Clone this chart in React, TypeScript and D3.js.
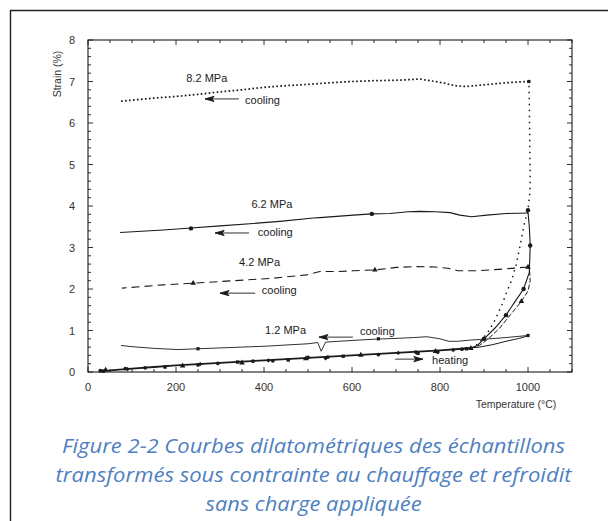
import React from 'react';
import * as d3 from 'd3';

// ---------- data (Temperature °C, Strain %) ----------
const xMajorTicks = [0, 200, 400, 600, 800, 1000];
const yMajorTicks = [0, 1, 2, 3, 4, 5, 6, 7, 8];

// common heating branch (all samples)
const heatT = [25, 50, 100, 150, 200, 250, 300, 350, 400, 450, 500, 550, 600, 650, 700, 750, 800, 850, 870];
const heatS = [0.03, 0.04, 0.08, 0.12, 0.16, 0.19, 0.22, 0.25, 0.28, 0.31, 0.34, 0.37, 0.40, 0.43, 0.46, 0.49, 0.52, 0.56, 0.58];

// heating end branches
const h12T = [870, 890, 920, 950, 980, 1000, 1003];
const h12S = [0.58, 0.6, 0.66, 0.74, 0.81, 0.87, 0.9];
const h42T = [870, 890, 910, 935, 960, 985, 1000, 1005, 1004, 1000];
const h42S = [0.58, 0.64, 0.8, 1.05, 1.38, 1.7, 1.95, 2.2, 2.4, 2.53];
const h62T = [870, 885, 900, 925, 950, 970, 990, 1003, 1005, 1003, 1000];
const h62S = [0.58, 0.64, 0.8, 1.06, 1.37, 1.69, 2.0, 2.4, 3.05, 3.5, 3.85];
const h82T = [870, 880, 895, 909, 925, 940, 952, 963, 973, 982, 991, 1000, 1004, 1005, 1004, 1003, 1002];
const h82S = [0.58, 0.62, 0.77, 0.96, 1.25, 1.6, 1.93, 2.22, 2.58, 3.04, 3.55, 3.9, 4.3, 4.63, 5.5, 6.5, 7.0];

// cooling branches
const c82T = [1002, 980, 950, 920, 890, 860, 840, 825, 810, 790, 770, 755, 740, 720, 700, 650, 600, 550, 500, 450, 400, 350, 300, 250, 200, 150, 100, 70];
const c82S = [7.0, 6.99, 6.97, 6.94, 6.91, 6.88, 6.89, 6.92, 6.96, 7.0, 7.03, 7.06, 7.05, 7.04, 7.03, 7.02, 7.0, 6.97, 6.93, 6.9, 6.86, 6.8, 6.75, 6.69, 6.64, 6.6, 6.55, 6.52];
const c62T = [1000, 951, 906, 872, 845, 823, 789, 755, 728, 686, 645, 603, 565, 527, 512, 436, 376, 300, 234, 171, 73];
const c62S = [3.83, 3.82, 3.78, 3.74, 3.78, 3.84, 3.86, 3.87, 3.86, 3.82, 3.81, 3.78, 3.75, 3.72, 3.71, 3.63, 3.58, 3.52, 3.47, 3.42, 3.36];
const c42T = [1000, 943, 883, 841, 818, 789, 747, 701, 652, 603, 568, 527, 497, 421, 361, 300, 239, 171, 77];
const c42S = [2.53, 2.48, 2.44, 2.44, 2.5, 2.53, 2.54, 2.52, 2.46, 2.44, 2.42, 2.42, 2.34, 2.26, 2.22, 2.18, 2.14, 2.1, 2.02];
const c12T = [1000, 950, 900, 870, 840, 820, 800, 770, 740, 700, 650, 600, 540, 530, 522, 500, 450, 400, 350, 300, 250, 205, 150, 100, 75];
const c12S = [0.88, 0.83, 0.79, 0.77, 0.74, 0.74, 0.8, 0.85, 0.83, 0.81, 0.79, 0.76, 0.72, 0.5, 0.71, 0.68, 0.65, 0.62, 0.6, 0.58, 0.56, 0.54, 0.57, 0.61, 0.64];

// symbols on curves
const markHeatT = [28, 35, 40, 85, 90, 130, 175, 215, 250, 255, 295, 340, 350, 375, 410, 420, 455, 495, 500, 540, 545, 580, 620, 660, 705, 745, 750, 790, 795, 830, 850, 860, 870];
const markHeatS = [0.03, 0.02, 0.05, 0.08, 0.07, 0.1, 0.12, 0.15, 0.17, 0.19, 0.21, 0.24, 0.22, 0.26, 0.28, 0.27, 0.29, 0.32, 0.35, 0.33, 0.36, 0.38, 0.41, 0.42, 0.46, 0.48, 0.45, 0.5, 0.48, 0.53, 0.55, 0.56, 0.57];
const markCircT = [234, 645, 1000, 1005, 990, 950, 900];
const markCircS = [3.46, 3.81, 3.9, 3.05, 2.0, 1.37, 0.8];
const markTriT = [239, 652, 1000, 985];
const markTriS = [2.14, 2.46, 2.53, 1.7];
const markSqT = [1000, 1002, 250, 660];
const markSqS = [0.88, 7.0, 0.56, 0.8];

// annotations
const labelTexts = ['8.2 MPa', '6.2 MPa', '4.2 MPa', '1.2 MPa'];
const labelT = [270, 418, 390, 449];
const labelS = [7.08, 4.05, 2.65, 1.01];
const noteTexts = ['cooling', 'cooling', 'cooling', 'cooling', 'heating'];
const noteT = [357, 386, 395, 618, 782];
const noteS = [6.55, 3.37, 1.98, 0.99, 0.29];
const arrowT0 = [343, 366, 380, 602, 698];
const arrowT1 = [266, 289, 300, 525, 761];
const arrowS = [6.58, 3.35, 1.9, 0.84, 0.31];

const captionLines = [
  'Figure 2-2 Courbes dilatométriques des échantillons',
  'transformés sous contrainte au chauffage et refroidit',
  'sans charge appliquée',
];
const captionWidths = [503, 516, 216];

const FONT = "'Liberation Sans', Arial, sans-serif";
const INK = '#1a1a1a';

export default function App() {
  const x = d3.scaleLinear().domain([0, 1100]).range([88, 572]);
  const y = d3.scaleLinear().domain([0, 8]).range([372, 40]);
  const line = d3.line<[number, number]>().x(d => x(d[0])).y(d => y(d[1]));
  const zip = (a: number[], b: number[]) => a.map((v, i) => [v, b[i]] as [number, number]);

  const xMinor = d3.range(0, 1101, 50);
  const yMinor = d3.range(0, 8.01, 0.2);
  const x0 = x(0), x1 = x(1100), y0 = y(0), y1 = y(8);

  const tri = d3.symbol().type(d3.symbolTriangle).size(14)() as string;
  const shapes = ['c', 's', 't', 'c', 'd'];

  const drawMark = (kind: string, cx: number, cy: number, k: number) => {
    if (kind === 'c') return <circle key={k} cx={cx} cy={cy} r={1.9} fill={INK} />;
    if (kind === 's') return <rect key={k} x={cx - 1.7} y={cy - 1.7} width={3.4} height={3.4} fill={INK} />;
    if (kind === 't') return <path key={k} d={tri} transform={`translate(${cx},${cy})`} fill={INK} />;
    return <path key={k} d="M0,-2.2 L2.2,0 L0,2.2 L-2.2,0Z" transform={`translate(${cx},${cy})`} fill={INK} />;
  };

  return (
    <svg width={608} height={521} style={{ position: 'absolute', left: 0, top: 0, background: '#fff' }}>
      <rect x={0} y={0} width={608} height={521} fill="#fff" />
      {/* outer frame */}
      <path d="M10.5,521 V10.5 H608" fill="none" stroke="#222" strokeWidth={1.4} />

      {/* plot box */}
      <rect x={x0} y={y1} width={x1 - x0} height={y0 - y1} fill="none" stroke={INK} strokeWidth={1.1} />

      {/* x ticks */}
      {xMinor.map(t => {
        const len = t % 200 === 0 ? 5 : 3;
        return (
          <g key={'xt' + t} stroke={INK} strokeWidth={0.9}>
            <line x1={x(t)} x2={x(t)} y1={y0} y2={y0 - len} />
            <line x1={x(t)} x2={x(t)} y1={y1} y2={y1 + len} />
          </g>
        );
      })}
      {/* y ticks */}
      {yMinor.map((s, i) => {
        const len = i % 5 === 0 ? 5 : 3;
        return (
          <g key={'yt' + i} stroke={INK} strokeWidth={0.9}>
            <line x1={x0} x2={x0 + len} y1={y(s)} y2={y(s)} />
            <line x1={x1} x2={x1 - len} y1={y(s)} y2={y(s)} />
          </g>
        );
      })}
      {xMajorTicks.map(t => (
        <text key={'xl' + t} x={x(t)} y={391} textAnchor="middle" fontFamily={FONT} fontSize={11} fill="#333">{t}</text>
      ))}
      {yMajorTicks.map(s => (
        <text key={'yl' + s} x={75} y={y(s) + 4} textAnchor="end" fontFamily={FONT} fontSize={11} fill="#333">{s}</text>
      ))}
      <text x={516} y={408} textAnchor="middle" fontFamily={FONT} fontSize={10.5} fill="#333">Temperature (°C)</text>
      <text transform="translate(61,74) rotate(-90)" textAnchor="middle" fontFamily={FONT} fontSize={10.5} fill="#333">Strain (%)</text>

      {/* curves */}
      <g fill="none" stroke={INK}>
        <path d={line(zip(heatT, heatS)) as string} strokeWidth={1.8} />
        <path d={line(zip(h12T, h12S)) as string} strokeWidth={1} />
        <path d={line(zip(h42T, h42S)) as string} strokeWidth={1} strokeDasharray="5,2" />
        <path d={line(zip(h62T, h62S)) as string} strokeWidth={1.1} />
        <path d={line(zip(h82T, h82S)) as string} strokeWidth={1.5} strokeDasharray="1.5,4.5" />
        <path d={line(zip(c82T, c82S)) as string} strokeWidth={1.7} strokeDasharray="1.7,2.3" />
        <path d={line(zip(c62T, c62S)) as string} strokeWidth={1.1} />
        <path d={line(zip(c42T, c42S)) as string} strokeWidth={1.1} strokeDasharray="8,5" />
        <path d={line(zip(c12T, c12S)) as string} strokeWidth={0.9} />
      </g>

      {/* symbols */}
      {markHeatT.map((t, i) => drawMark(shapes[i % shapes.length], x(t), y(markHeatS[i]), i))}
      {markCircT.map((t, i) => <circle key={'mc' + i} cx={x(t)} cy={y(markCircS[i])} r={2.2} fill={INK} />)}
      {markTriT.map((t, i) => (
        <path key={'mt' + i} d={tri} transform={`translate(${x(t)},${y(markTriS[i])})`} fill={INK} />
      ))}
      {markSqT.map((t, i) => (
        <rect key={'ms' + i} x={x(t) - 1.6} y={y(markSqS[i]) - 1.6} width={3.2} height={3.2} fill={INK} />
      ))}

      {/* annotations */}
      {labelTexts.map((s, i) => (
        <text key={'lb' + i} x={x(labelT[i])} y={y(labelS[i]) + 4} textAnchor="middle" fontFamily={FONT} fontSize={11} fill={INK}>{s}</text>
      ))}
      {noteTexts.map((s, i) => (
        <text key={'nt' + i} x={x(noteT[i])} y={y(noteS[i]) + 4} fontFamily={FONT} fontSize={11} fill={INK}>{s}</text>
      ))}
      {arrowT0.map((t, i) => {
        const ax0 = x(t), ax1 = x(arrowT1[i]), ay = y(arrowS[i]);
        const dir = ax1 < ax0 ? 1 : -1;
        return (
          <g key={'ar' + i} stroke={INK} fill={INK} strokeWidth={0.9}>
            <line x1={ax0} x2={ax1} y1={ay} y2={ay} />
            <path d={`M${ax1},${ay} L${ax1 + dir * 9},${ay - 2.6} L${ax1 + dir * 7},${ay} L${ax1 + dir * 9},${ay + 2.6}Z`} />
          </g>
        );
      })}

      {/* caption */}
      {captionLines.map((s, i) => (
        <text key={'cap' + i} x={313.5} y={453 + i * 29} textAnchor="middle" textLength={captionWidths[i]} lengthAdjust="spacingAndGlyphs" fontFamily="'Open Sans', 'Noto Sans', sans-serif" fontStyle="italic" fontSize={20} fill="#4f7fc0">{s}</text>
      ))}
    </svg>
  );
}
